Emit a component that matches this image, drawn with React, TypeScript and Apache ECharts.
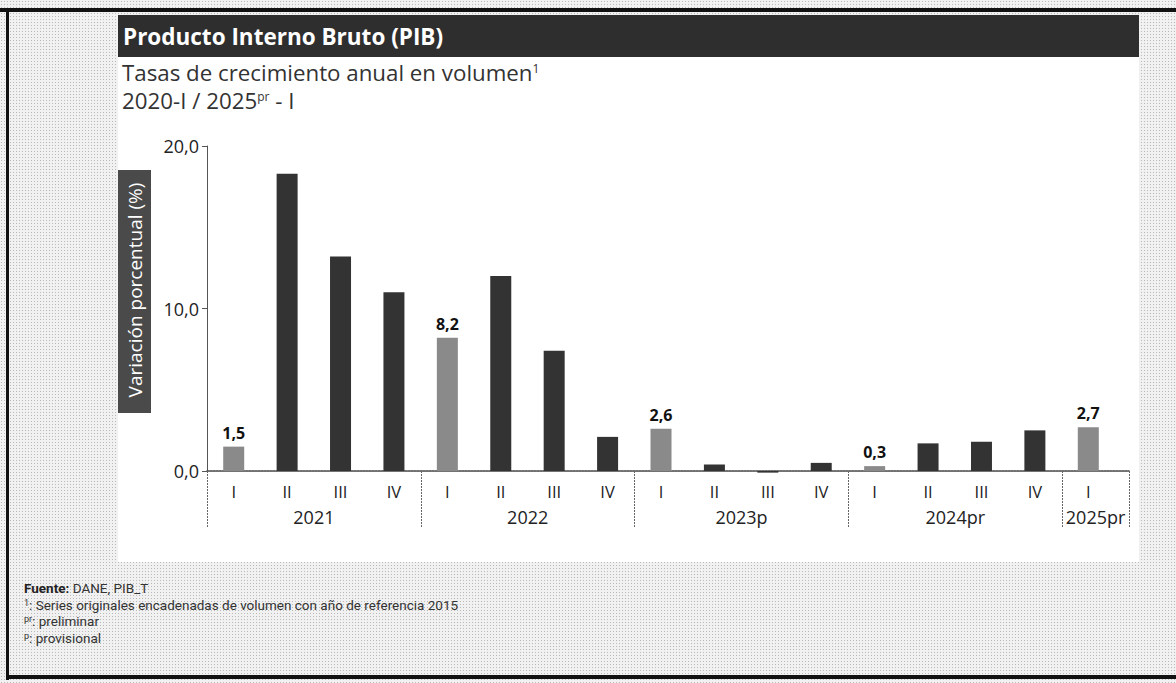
import React, { useEffect, useRef } from "react";
import * as echarts from "echarts";

const quarters = ["I", "II", "III", "IV", "I", "II", "III", "IV", "I", "II", "III", "IV", "I", "II", "III", "IV", "I"];
const values = [1.5, 18.3, 13.2, 11.0, 8.2, 12.0, 7.4, 2.1, 2.6, 0.4, -0.1, 0.5, 0.3, 1.7, 1.8, 2.5, 2.7];
const years = ["2021", "2022", "2023p", "2024pr", "2025pr"];
// year-band axis: 139 points, 8 slots per quarter; the last band is drawn wider, as in the source
const SLOT_COUNT = 139;
const yearSlots = [16, 48, 80, 112, 133];
const separatorSlots = [0, 32, 64, 96, 128, 138];
const yTicks = { min: 0, max: 20, interval: 10 };

const DARK = "#333333";
const LIGHT = "#8a8a8a";
const FONT = "'Open Sans', 'Noto Sans', sans-serif";
const FOOT = "Roboto, sans-serif";

const fmt = (v: number) => v.toFixed(1).replace(".", ",");

export default function App() {
  const ref = useRef<HTMLDivElement>(null);
  useEffect(() => {
    if (!ref.current) return;
    const chart = echarts.init(ref.current, undefined, { renderer: "svg" });
    const slots = Array.from({ length: SLOT_COUNT }, (_, i) => "s" + i);
    const barData = values.map((v, i) => {
      const hi = quarters[i] === "I";
      return {
        value: v,
        itemStyle: { color: hi ? LIGHT : DARK },
        label: { show: hi },
      };
    });
    const footRich = {
      a: { fontSize: 13.5, fontFamily: FOOT, fill: "#333", lineHeight: 16.5 },
      b: { fontSize: 13.5, fontFamily: FOOT, fill: "#222", fontWeight: "bold", lineHeight: 16.5 },
      s: { fontSize: 9, fontFamily: FOOT, fill: "#333", lineHeight: 9, padding: [0, 0, 6, 0], verticalAlign: "bottom" },
    };
    const subRich = {
      a: { fontSize: 22.3, fontFamily: FONT, fill: "#333", lineHeight: 28 },
      s: { fontSize: 12, fontFamily: FONT, fill: "#333", lineHeight: 13, padding: [0, 0, 12, 0], verticalAlign: "bottom" },
    };
    chart.setOption({
      animation: false,
      grid: [
        { left: 207, right: 61, top: 146, bottom: 212 },
        { left: 207, right: 47, top: 146, bottom: 212 },
      ],
      xAxis: [
        {
          type: "category",
          gridIndex: 0,
          data: quarters,
          axisLine: { show: false },
          axisTick: { show: false },
          axisLabel: { interval: 0, margin: 12, fontSize: 16.5, color: "#222", fontFamily: FONT },
        },
        {
          type: "category",
          gridIndex: 1,
          data: slots,
          boundaryGap: false,
          position: "bottom",
          axisLine: { show: true, lineStyle: { color: "#444", width: 1.5, type: [2, 1] } },
          axisTick: {
            show: true,
            length: 56,
            interval: (idx: number) => separatorSlots.includes(idx),
            lineStyle: { color: "#666", width: 1, type: [2, 1] },
          },
          axisLabel: {
            interval: 0,
            margin: 37,
            fontSize: 18,
            color: "#222",
            fontFamily: FONT,
            formatter: (_v: string, idx: number) => {
              const k = yearSlots.indexOf(idx);
              return k >= 0 ? years[k] : "";
            },
          },
        },
      ],
      yAxis: [
        {
          type: "value",
          gridIndex: 0,
          min: yTicks.min,
          max: yTicks.max,
          interval: yTicks.interval,
          splitLine: { show: false },
          axisLine: { show: true, lineStyle: { color: "#555", width: 1 } },
          axisTick: { show: true, length: 5, lineStyle: { color: "#555" } },
          axisLabel: {
            margin: 8,
            fontSize: 18,
            color: "#222",
            fontFamily: FONT,
            formatter: (v: number) => fmt(v),
          },
        },
        {
          type: "value",
          gridIndex: 1,
          min: yTicks.min,
          max: yTicks.max,
          interval: yTicks.interval,
          show: false,
        },
      ],
      series: [
        {
          type: "bar",
          xAxisIndex: 0,
          yAxisIndex: 0,
          data: barData,
          barWidth: 21,
          clip: false,
          label: {
            position: "top",
            distance: 6,
            fontSize: 16,
            fontWeight: "bold",
            color: "#111",
            fontFamily: FONT,
            formatter: (p: any) => fmt(p.value),
          },
        },
      ],
      graphic: [
        { type: "rect", z: -10, shape: { x: 118, y: 15, width: 1021, height: 547 }, style: { fill: "#ffffff" } },
        { type: "rect", z: -5, shape: { x: 118, y: 15, width: 1021, height: 42 }, style: { fill: "#2e2e2e" } },
        {
          type: "text",
          x: 123,
          y: 36,
          style: {
            text: "Producto Interno Bruto (PIB)",
            fill: "#ffffff",
            font: `bold 22.5px ${FONT}`,
            verticalAlign: "middle",
          },
        },
        {
          type: "text",
          x: 122,
          y: 58,
          style: {
            text: "{a|Tasas de crecimiento anual en volumen}{s|1}\n{a|2020-I / 2025}{s|pr}{a| - I}",
            verticalAlign: "top",
            rich: subRich,
          },
        },
        { type: "rect", shape: { x: 118, y: 170, width: 33, height: 243 }, style: { fill: "#4a4a4a" } },
        {
          type: "text",
          x: 135,
          y: 290,
          rotation: Math.PI / 2,
          style: {
            text: "Variación porcentual (%)",
            fill: "#ffffff",
            font: `19px ${FONT}`,
            align: "center",
            verticalAlign: "middle",
          },
        },
        {
          type: "text",
          x: 24,
          y: 580,
          style: {
            text:
              "{b|Fuente:}{a| DANE, PIB_T}\n" +
              "{s|1}{a|: Series originales encadenadas de volumen con año de referencia 2015}\n" +
              "{s|pr}{a|: preliminar}\n" +
              "{s|p}{a|: provisional}",
            verticalAlign: "top",
            rich: footRich,
          },
        },
        { type: "rect", shape: { x: 0, y: 8, width: 1176, height: 4 }, style: { fill: "#111" } },
        { type: "rect", shape: { x: 6, y: 8, width: 3, height: 672 }, style: { fill: "#111" } },
        { type: "rect", shape: { x: 6, y: 675, width: 1170, height: 4 }, style: { fill: "#111" } },
      ],
    });
    return () => chart.dispose();
  }, []);
  return (
    <div
      ref={ref}
      style={{
        position: "fixed",
        left: 0,
        top: 0,
        width: 1176,
        height: 683,
        backgroundColor: "#f1f1f1",
        backgroundImage: "radial-gradient(#b9b9b9 0.7px, transparent 0.8px)",
        backgroundSize: "3px 3px",
      }}
    />
  );
}
